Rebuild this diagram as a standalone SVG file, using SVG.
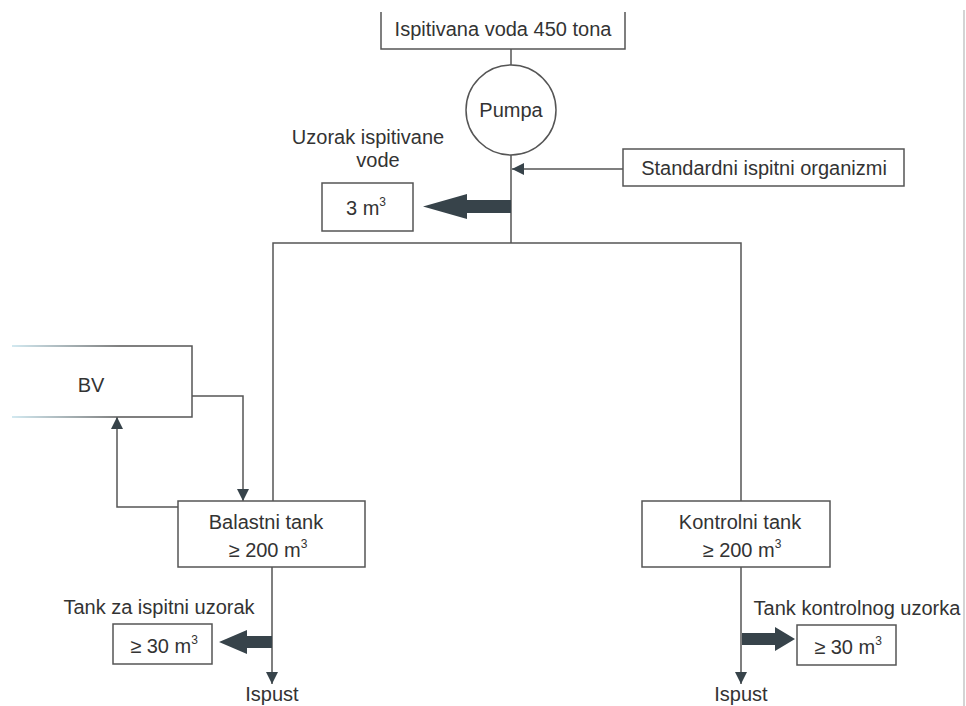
<svg xmlns="http://www.w3.org/2000/svg" width="966" height="706" viewBox="0 0 966 706">
<style>
text{font-family:"Liberation Sans",Arial,sans-serif;font-size:20px;fill:#333;text-anchor:middle}
.sup{font-size:12px}
.box{fill:#fff;stroke:#555;stroke-width:1.5}
.ln{fill:none;stroke:#555;stroke-width:1.5}
.thick{fill:#37434a}
</style>
<defs>
<marker id="ah" viewBox="0 0 10 10" refX="10" refY="5" markerWidth="12" markerHeight="12" markerUnits="userSpaceOnUse" orient="auto">
<path d="M0,0 L10,5 L0,10 Z" fill="#37434a"/>
</marker>
<linearGradient id="fade" gradientUnits="userSpaceOnUse" x1="12" y1="0" x2="120" y2="0">
<stop offset="0" stop-color="#c4e2ec"/>
<stop offset="1" stop-color="#555"/>
</linearGradient>
</defs>
<rect width="966" height="706" fill="#fff"/>
<line x1="964" y1="10" x2="964" y2="706" stroke="#d4d4d4" stroke-width="2"/>

<g id="connectors">
<line class="ln" x1="511" y1="49" x2="511" y2="65"/>
<line class="ln" x1="511" y1="155" x2="511" y2="243"/>
<line class="ln" x1="623" y1="169" x2="512" y2="169" marker-end="url(#ah)"/>
<polygon class="thick" points="511,200 467,200 467,194 423,206.5 467,219 467,213 511,213"/>
<polyline class="ln" points="273,501 273,243 741,243 741,501"/>
<polyline class="ln" points="192,396 243,396 243,501" marker-end="url(#ah)"/>
<polyline class="ln" points="178,507 117,507 117,417" marker-end="url(#ah)"/>
<line class="ln" x1="272" y1="567" x2="272" y2="684" marker-end="url(#ah)"/>
<polygon class="thick" points="272,636 247,636 247,630 219,642 247,654 247,648 272,648"/>
<line class="ln" x1="741" y1="567" x2="741" y2="684" marker-end="url(#ah)"/>
<polygon class="thick" points="742,633 775,633 775,627 795,639 775,651 775,645 742,645"/>
</g>

<g id="ispitivana">
<path class="box" d="M381,12 L381,49 L625,49 L625,12"/>
<text x="503" y="36">Ispitivana voda 450 tona</text>
</g>

<g id="pumpa">
<circle cx="511" cy="110" r="45" class="box"/>
<text x="511" y="117">Pumpa</text>
</g>

<g id="standardni">
<rect class="box" x="623" y="149" width="281" height="37"/>
<text x="764" y="175">Standardni ispitni organizmi</text>
</g>

<g id="uzorak">
<text x="368" y="144">Uzorak ispitivane</text>
<text x="378" y="167">vode</text>
<rect class="box" x="322" y="183" width="91" height="48"/>
<text x="366" y="215">3 m<tspan class="sup" dy="-9">3</tspan></text>
</g>

<g id="bv">
<path d="M12,346 L192,346 L192,417 L12,417" fill="#fff" stroke="url(#fade)" stroke-width="1.5"/>
<text x="91" y="392">BV</text>
</g>

<g id="balastni">
<rect class="box" x="178" y="501" width="187" height="66"/>
<text x="266" y="529">Balastni tank</text>
<text x="268" y="557">≥ 200 m<tspan class="sup" dy="-9">3</tspan></text>
</g>

<g id="kontrolni">
<rect class="box" x="642" y="501" width="188" height="66"/>
<text x="740" y="529">Kontrolni tank</text>
<text x="742" y="557">≥ 200 m<tspan class="sup" dy="-9">3</tspan></text>
</g>

<g id="tank-ispitni">
<text x="159" y="614">Tank za ispitni uzorak</text>
<rect class="box" x="113" y="624" width="99" height="40"/>
<text x="164" y="653">≥ 30 m<tspan class="sup" dy="-9">3</tspan></text>
</g>

<g id="tank-kontrolni">
<text x="857" y="615">Tank kontrolnog uzorka</text>
<rect class="box" x="797" y="625" width="99" height="40"/>
<text x="848" y="654">≥ 30 m<tspan class="sup" dy="-9">3</tspan></text>
</g>

<g id="ispust-left"><text x="272" y="701">Ispust</text></g>
<g id="ispust-right"><text x="741" y="701">Ispust</text></g>
</svg>
